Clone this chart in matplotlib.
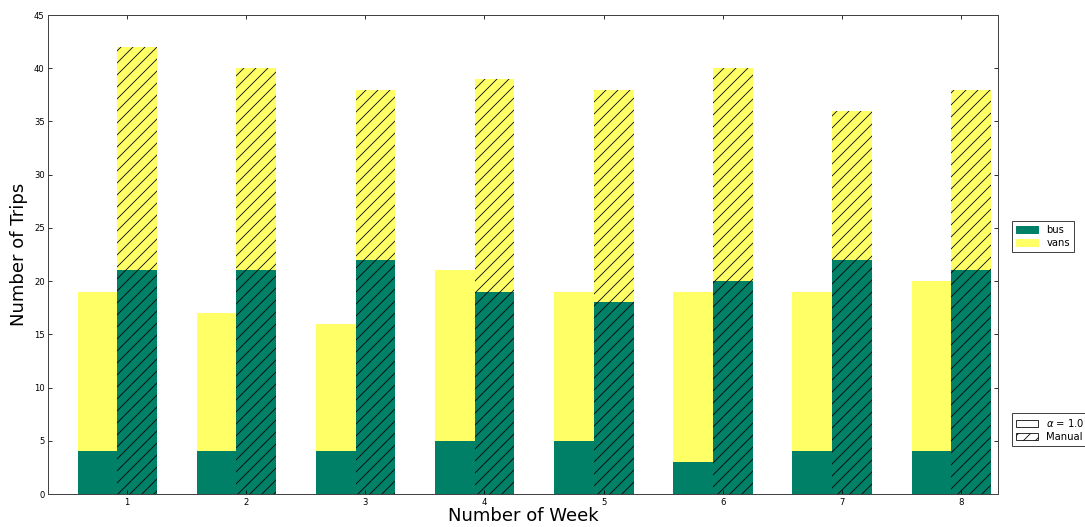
import numpy as np
import matplotlib
matplotlib.use("Agg")
import matplotlib.pyplot as plt
from matplotlib.patches import Patch

BUS, VANS = "#008066", "#ffff66"

weeks = [1, 2, 3, 4, 5, 6, 7, 8]
# alpha = 1.0 (left bars)
auto_bus = [4, 4, 4, 5, 5, 3, 4, 4]
auto_vans = [15, 13, 12, 16, 14, 16, 15, 16]
# Manual (right bars, hatched)
man_bus = [21, 21, 22, 19, 18, 20, 22, 21]
man_vans = [21, 19, 16, 20, 20, 20, 14, 17]

plt.rcParams.update({
    "font.family": "DejaVu Sans",
    "xtick.direction": "in", "ytick.direction": "in",
    "xtick.top": True, "ytick.right": True,
    "xtick.labelsize": 8.5, "ytick.labelsize": 8.5,
    "xtick.major.size": 4, "ytick.major.size": 4,
    "axes.linewidth": 1.0, "axes.edgecolor": "#444444",
    "hatch.linewidth": 0.8,
})

DPI = 72
fig = plt.figure(figsize=(1085 / DPI, 527 / DPI), dpi=DPI)
ax = fig.add_axes([0.0445, 0.0626, 0.8753, 0.9089])

x = np.array(weeks, dtype=float)
w = 0.333
left = x - 0.415
right = left + w
ax.bar(left, auto_bus, w, align="edge", color=BUS, linewidth=0)
ax.bar(left, auto_vans, w, bottom=auto_bus, align="edge", color=VANS, linewidth=0)
ax.bar(right, man_bus, w, align="edge", color=BUS, edgecolor="black",
       linewidth=0, hatch="//")
ax.bar(right, man_vans, w, bottom=man_bus, align="edge", color=VANS,
       edgecolor="black", linewidth=0, hatch="//")

ax.set_xlim(0.339, 8.31)
ax.set_ylim(0, 45)
ax.set_xticks(weeks)
ax.set_yticks(np.arange(0, 46, 5))
ax.set_xlabel("Number of Week", fontsize=18)
ax.set_ylabel("Number of Trips", fontsize=18)
ax.yaxis.set_label_coords(-0.021, 0.5)
ax.xaxis.set_label_coords(0.5, -0.028)

leg1 = ax.legend(handles=[Patch(facecolor=BUS, edgecolor=BUS, label="bus"),
                          Patch(facecolor=VANS, edgecolor=VANS, label="vans")],
                 loc="center left", bbox_to_anchor=(1.01, 0.537), fontsize=10,
                 fancybox=False, framealpha=1, edgecolor="#444444",
                 handlelength=2.2, handletextpad=0.8, borderpad=0.4,
                 labelspacing=0.3)
leg1.get_frame().set_linewidth(1.0)
ax.add_artist(leg1)
leg2 = ax.legend(handles=[Patch(facecolor="white", edgecolor="black",
                                linewidth=0.8, label=r"$\alpha$ = 1.0"),
                          Patch(facecolor="white", edgecolor="black",
                                linewidth=0.8, hatch="//", label="Manual")],
                 loc="center left", bbox_to_anchor=(1.01, 0.134), fontsize=10,
                 fancybox=False, framealpha=1, edgecolor="#444444",
                 handlelength=2.2, handletextpad=0.8, borderpad=0.4,
                 labelspacing=0.3)
leg2.get_frame().set_linewidth(1.0)

fig.savefig("out.png", dpi=DPI)
